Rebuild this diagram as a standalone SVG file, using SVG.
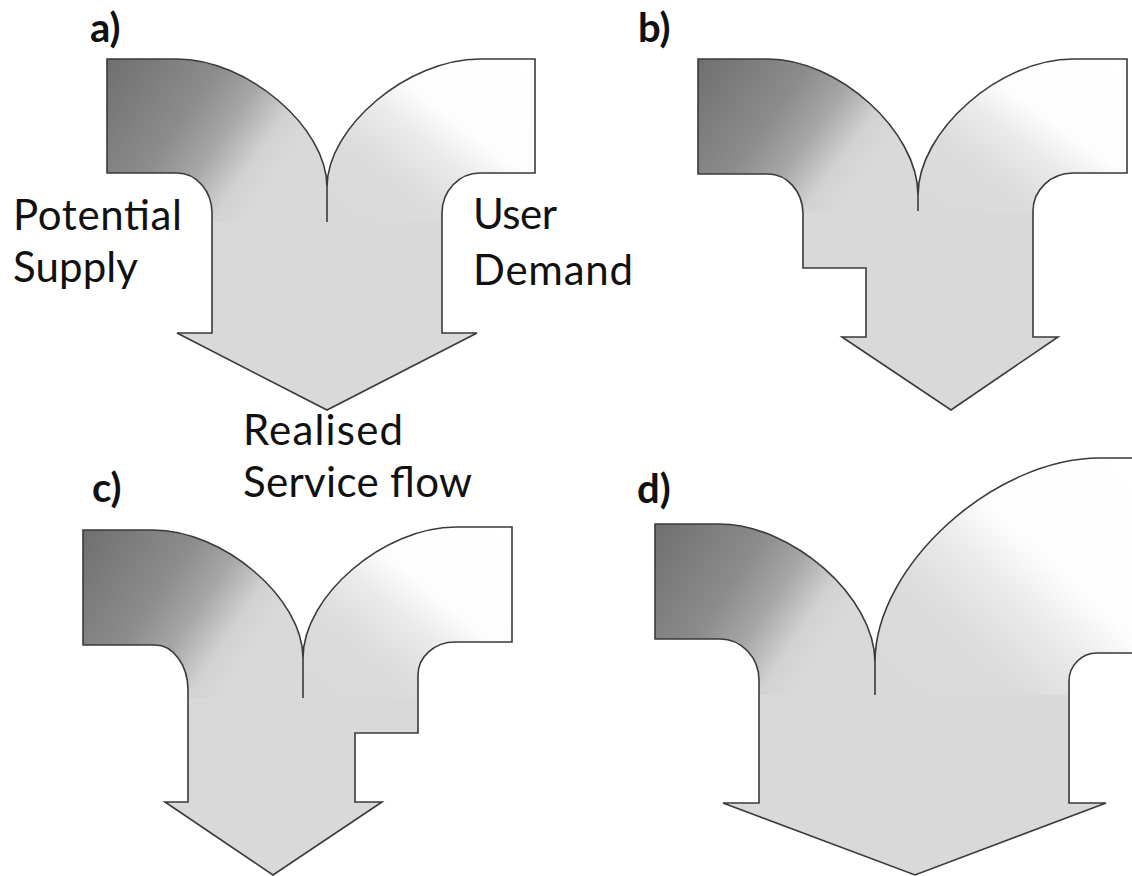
<svg xmlns="http://www.w3.org/2000/svg" xmlns:xlink="http://www.w3.org/1999/xlink" width="1132" height="876" viewBox="0 0 1132 876">
<style>
.base{fill:#d9d9d9;stroke:none}
.line{fill:none;stroke:#3a3a3a;stroke-width:1.6;stroke-linejoin:miter}
.lbl{font-family:Lato,"Liberation Sans",sans-serif;font-size:42px;fill:#111}
.tag{font-family:Lato,"Liberation Sans",sans-serif;font-size:40px;font-weight:bold;fill:#111}
</style>
<defs>
<linearGradient id="gl" x1="0" y1="0" x2="1" y2="0.52">
<stop offset="0" stop-color="#6f6f6f"/>
<stop offset="0.42" stop-color="#8c8c8c"/>
<stop offset="0.6" stop-color="#a6a6a6"/>
<stop offset="0.78" stop-color="#d2d2d2"/>
<stop offset="0.9" stop-color="#d9d9d9"/>
</linearGradient>
<linearGradient id="gr" x1="0" y1="1" x2="1" y2="0">
<stop offset="0" stop-color="#d9d9d9"/>
<stop offset="0.3" stop-color="#dcdcdc"/>
<stop offset="0.48" stop-color="#ebebeb"/>
<stop offset="0.62" stop-color="#fdfdfd"/>
<stop offset="1" stop-color="#ffffff"/>
</linearGradient>
<path id="sa" d="M107,59 H177 C247,59 327,127 327,187 C327,127 408,59 480,59 H535 V173 H480 A38,40 0 0 0 442,213 V333 H477 L327,410 L177,333 H212 V213 A35,40 0 0 0 177,173 H107 Z"/>
<path id="sb" d="M698,59 H768 C838,59 918,131 918,195 C918,131 1000,59 1073,59 H1127 V173 H1073 A40,38 0 0 0 1033,211 V337 H1058 L951,410 L842,337 H866 V268 H803 V213 A35,40 0 0 0 768,174 H698 Z"/>
<path id="sc" d="M83,530 H153 C223,530 303,598 303,658 C303,596 384,527 456,527 H512 V642 H455 A37,33 0 0 0 418,675 V733 H355 V802 H382 L273,875 L165,802 H188 V690 A33,45 0 0 0 155,645 H83 Z"/>
<path id="sd" d="M655,524 H719 C792,524 875,597 875,662 C875,566 994,458 1100,458 H1145 V653 H1097 A28,28 0 0 0 1069,681 V803 H1106 L915,875 L723,803 H759 V680 A39,41 0 0 0 720,639 H655 Z"/>
<clipPath id="ca"><use xlink:href="#sa"/></clipPath>
<clipPath id="cb"><use xlink:href="#sb"/></clipPath>
<clipPath id="cc"><use xlink:href="#sc"/></clipPath>
<clipPath id="cd"><use xlink:href="#sd"/></clipPath>
</defs>
<rect width="1132" height="876" fill="#ffffff"/>

<g id="panel-a">
<use xlink:href="#sa" class="base"/>
<g clip-path="url(#ca)">
<rect x="107" y="59" width="220" height="163" fill="url(#gl)"/>
<rect x="327" y="59" width="208" height="163" fill="url(#gr)"/>
</g>
<use xlink:href="#sa" class="line"/>
<path class="line" d="M327,187 V222"/>
<text class="tag" x="90" y="42">a)</text>
</g>

<g id="panel-b">
<use xlink:href="#sb" class="base"/>
<g clip-path="url(#cb)">
<rect x="698" y="59" width="220" height="154" fill="url(#gl)"/>
<rect x="918" y="59" width="209" height="154" fill="url(#gr)"/>
</g>
<use xlink:href="#sb" class="line"/>
<path class="line" d="M918,195 V211"/>
<text class="tag" x="638" y="42">b)</text>
</g>

<g id="panel-c">
<use xlink:href="#sc" class="base"/>
<g clip-path="url(#cc)">
<rect x="83" y="530" width="220" height="168" fill="url(#gl)"/>
<rect x="303" y="527" width="209" height="171" fill="url(#gr)"/>
</g>
<use xlink:href="#sc" class="line"/>
<path class="line" d="M303,658 V698"/>
<text class="tag" x="92" y="502">c)</text>
</g>

<g id="panel-d">
<use xlink:href="#sd" class="base"/>
<g clip-path="url(#cd)">
<rect x="655" y="524" width="220" height="171" fill="url(#gl)"/>
<rect x="875" y="458" width="257" height="237" fill="url(#gr)"/>
</g>
<use xlink:href="#sd" class="line"/>
<path class="line" d="M875,662 V695"/>
<text class="tag" x="637" y="503">d)</text>
</g>

<g id="labels">
<text class="lbl" x="13" y="230" textLength="169" lengthAdjust="spacing">Potential</text>
<text class="lbl" x="13" y="282" textLength="125" lengthAdjust="spacing">Supply</text>
<text class="lbl" x="473" y="229" textLength="84" lengthAdjust="spacing">User</text>
<text class="lbl" x="473" y="285" textLength="160" lengthAdjust="spacing">Demand</text>
<text class="lbl" x="243" y="445" textLength="160" lengthAdjust="spacing">Realised</text>
<text class="lbl" x="243" y="497" textLength="229" lengthAdjust="spacing">Service flow</text>
</g>
</svg>
